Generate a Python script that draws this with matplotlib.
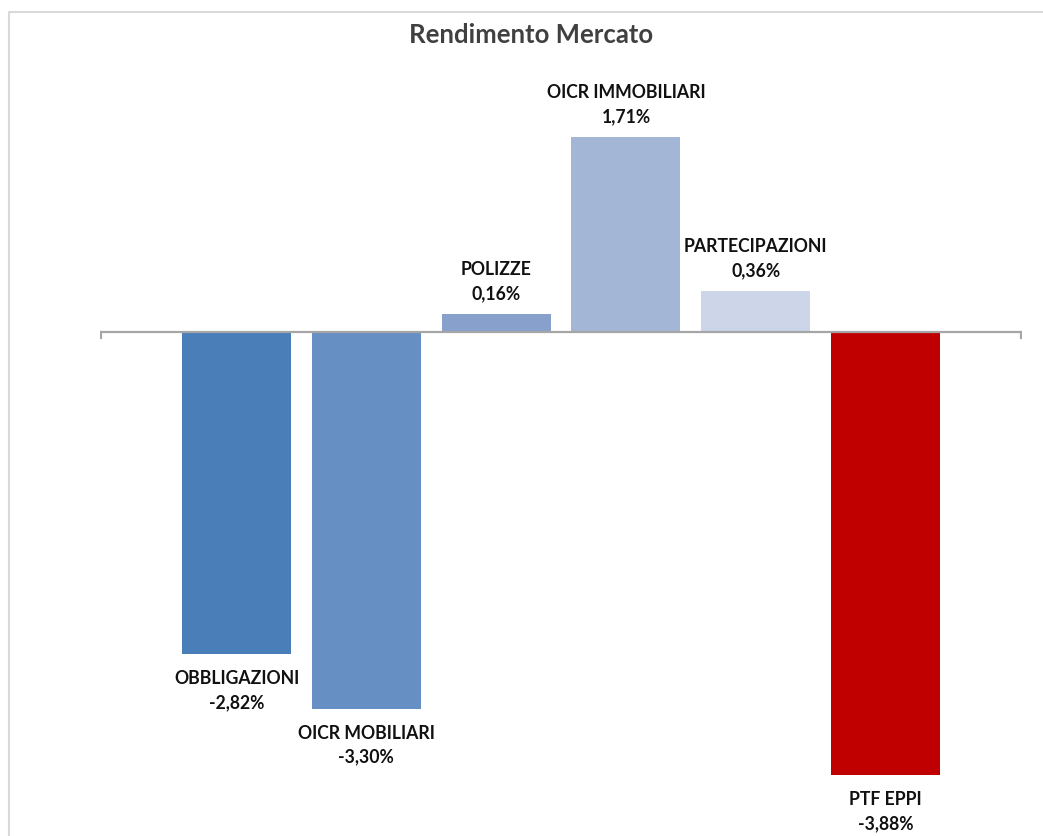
import matplotlib.pyplot as plt
from matplotlib.lines import Line2D

# dati rendimento per classe di attivo (%)
categorie = ['OBBLIGAZIONI', 'OICR MOBILIARI', 'POLIZZE', 'OICR IMMOBILIARI', 'PARTECIPAZIONI', 'PTF EPPI']
rendimenti = [-2.82, -3.30, 0.16, 1.71, 0.36, -3.88]
colori = ['#4a7eb8', '#668fc4', '#87a1cc', '#a3b6d6', '#ccd6e8', '#c00000']

plt.rcParams['font.family'] = ['Lato', 'DejaVu Sans']

fig = plt.figure(figsize=(10.43, 8.37), dpi=100)
ax = fig.add_axes([100 / 1043, 0, 922 / 1043, 1])

x = list(range(len(categorie)))
ax.bar(x, rendimenti, width=0.84, color=colori, zorder=2)

# scala: circa 114.3 px per punto percentuale, zero a 333 px dall'alto
ax.set_xlim(-1.052, 6.052)
ax.set_ylim(-(837 - 333) / 114.3, 333 / 114.3)

# asse orizzontale con piccole tacche alle estremita'
ax.plot([-1.052, 6.052], [0, 0], color='#a6a6a6', lw=1.6, zorder=3, solid_capstyle='butt')
tick = 6 / 114.3
for xe in [-1.045, 6.045]:
    ax.plot([xe, xe], [0, -tick], color='#a6a6a6', lw=1.6, zorder=3)

px = 1 / 114.3
for xi, nome, v in zip(x, categorie, rendimenti):
    testo_v = ('%.2f%%' % v).replace('.', ',')
    if v >= 0:
        y_nome = v + 45 * px
        y_val = v + 21 * px
    else:
        y_nome = v - 23 * px
        y_val = v - 47 * px
    ax.text(xi, y_nome, nome, ha='center', va='center', fontsize=12.7,
            fontweight='bold', color='#111111')
    ax.text(xi, y_val, testo_v, ha='center', va='center', fontsize=12.7,
            fontweight='bold', color='#111111')

ax.axis('off')

fig.text(531 / 1043, 1 - 35 / 837, 'Rendimento Mercato', ha='center', va='center',
         fontsize=18.5, fontweight='bold', color='#404040')

# cornice del grafico (bordo sinistro e superiore)
fig.add_artist(Line2D([8.5 / 1043, 8.5 / 1043, 1], [0, 1 - 12.5 / 837, 1 - 12.5 / 837],
                      color='#d9d9d9', lw=1.5))

plt.savefig('out.png', dpi=100)
